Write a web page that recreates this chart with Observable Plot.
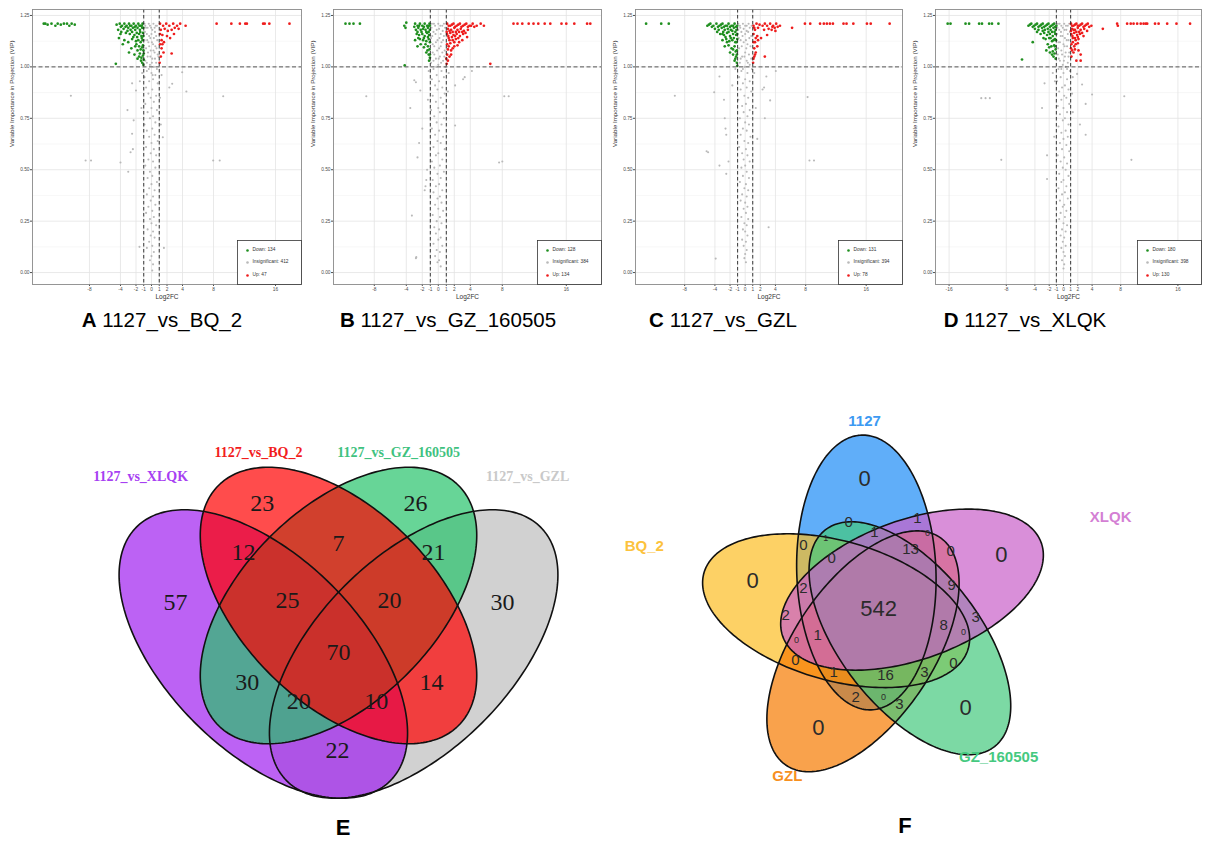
<!DOCTYPE html>
<html><head><meta charset="utf-8">
<script src="https://cdn.jsdelivr.net/npm/d3@7"></script>
<script src="https://cdn.jsdelivr.net/npm/@observablehq/plot@0.6"></script>
<style>
body{margin:0;background:#fff;}
#page{position:relative;width:1207px;height:841px;overflow:hidden;background:#fff;font-family:"Liberation Sans",Arial,sans-serif;}
.cap{position:absolute;font-size:20.5px;color:#000;transform:translate(-50%,-50%);white-space:nowrap;}
.pl{position:absolute;font-size:22px;font-weight:bold;color:#000;transform:translate(-50%,-50%);}
</style></head><body><div id="page"></div>
<script>
// ---------------- volcano data: [log2FC, VIP] ----------------
const VIP_TICKS = [0, 0.25, 0.5, 0.75, 1, 1.25];
const VIP_MINOR = [0.125, 0.375, 0.625, 0.875, 1.125];
const XTICKS_ABC = [-8, -4, -2, -1, 0, 1, 2, 4, 8, 16];
const XTICKS_D = [-16, -8, -4, -2, -1, 0, 1, 2, 4, 8, 16];

const A_down = [[-13.9,1.21],[-13.7,1.21],[-13.4,1.205],[-12.9,1.21],[-12.4,1.2],[-12.1,1.21],[-11.7,1.205],[-11.3,1.21],[-10.9,1.21],[-10.6,1.2],[-10.3,1.21],[-9.9,1.205],
[-4.1,1.21],[-3.8,1.2],[-3.5,1.21],[-3.2,1.2],[-2.9,1.21],[-2.6,1.2],[-2.3,1.21],[-2.0,1.2],[-1.7,1.21],[-1.4,1.2],[-1.15,1.21],
[-4.3,1.18],[-3.6,1.185],[-3.0,1.19],[-2.7,1.18],[-2.4,1.19],[-2.1,1.18],[-1.8,1.19],[-1.5,1.18],[-1.2,1.19],
[-4.0,1.16],[-3.3,1.165],[-2.8,1.16],[-2.2,1.155],[-1.9,1.165],[-1.6,1.16],[-1.3,1.15],[-1.1,1.165],
[-4.2,1.14],[-3.5,1.13],[-2.5,1.135],[-2.0,1.125],[-1.7,1.13],[-1.4,1.12],[-1.15,1.13],
[-3.7,1.11],[-2.6,1.09],[-2.1,1.1],[-1.8,1.08],[-1.4,1.085],[-1.2,1.095],[-1.05,1.08],
[-2.2,1.06],[-1.6,1.05],[-1.3,1.045],[-1.1,1.055],[-1.2,1.02],[-1.05,1.01],[-4.6,1.015],
[-4.5,1.205],[-3.95,1.195],[-3.35,1.195],[-2.75,1.2],[-2.15,1.195],[-1.55,1.2],[-1.25,1.2],[-1.05,1.19],[-3.9,1.17],[-3.1,1.175],[-2.5,1.17],[-1.45,1.17],[-1.05,1.15],
[-2.35,1.145],[-1.85,1.145],[-1.25,1.14],[-3.0,1.12],[-1.95,1.11],[-1.6,1.1],[-1.1,1.105],[-1.5,1.065],[-1.0,1.065],[-1.35,1.03],[-1.0,1.035],[-2.9,1.07],[-1.8,1.04]];
const A_up = [[8.4,1.21],[10.3,1.21],[11.4,1.21],[12.1,1.21],[12.3,1.21],[14.4,1.21],[14.6,1.21],[15.2,1.21],[17.8,1.21],
[1.1,1.21],[1.5,1.2],[1.9,1.21],[2.3,1.2],[2.8,1.21],[3.3,1.2],[3.7,1.21],[4.4,1.2],[1.2,1.18],[1.7,1.185],[2.1,1.175],[2.6,1.18],[3.0,1.19],[3.5,1.185],
[1.1,1.16],[1.4,1.155],[2.0,1.15],[2.9,1.16],[1.3,1.13],[1.6,1.12],[2.4,1.14],[1.1,1.11],[1.4,1.11],[1.3,1.09],[1.55,1.07],[2.6,1.065],[1.2,1.05],[1.05,1.02]];
const A_insig = [[-0.8,1.2],[-0.5,1.19],[-0.2,1.2],[0.1,1.18],[0.4,1.19],[0.7,1.2],[-0.6,1.16],[-0.3,1.15],[0.0,1.16],[0.3,1.14],[0.6,1.15],[-0.9,1.13],[-0.4,1.12],[0.2,1.11],[0.5,1.1],[-0.7,1.09],[-0.1,1.08],[0.4,1.07],[0.8,1.06],[-0.5,1.05],[0.1,1.04],[-0.8,1.03],[0.6,1.02],[-0.2,1.01],[0.3,1.0],
[-0.9,1.21],[-0.35,1.21],[0.25,1.21],[0.55,1.2],[-0.7,1.19],[-0.05,1.19],[0.45,1.17],[-0.85,1.17],[-0.15,1.14],[0.75,1.13],[-0.55,1.13],[0.05,1.12],[-0.3,1.1],[0.65,1.09],[-0.95,1.08],[0.25,1.08],[-0.45,1.07],[0.9,1.05],[-0.15,1.05],[0.45,1.04],[-0.6,1.02],[0.05,1.02],[-0.35,0.99],[0.7,0.99],[0.15,0.96],
[-0.6,0.98],[0.0,0.97],[0.5,0.96],[-0.9,0.95],[0.2,0.94],[-0.3,0.93],[0.8,0.92],[-0.7,0.9],[0.1,0.89],[-0.4,0.87],[0.6,0.86],[-0.1,0.85],[0.3,0.83],[-0.8,0.82],[0.0,0.8],[0.7,0.79],[-0.5,0.78],[0.2,0.76],[-0.2,0.75],[0.5,0.73],[-0.9,0.72],[0.1,0.7],[-0.6,0.69],[0.4,0.67],[-0.3,0.66],[0.8,0.64],[0.0,0.63],[-0.7,0.61],[0.3,0.6],[-0.1,0.58],[0.6,0.57],[-0.4,0.55],[0.2,0.54],[-0.8,0.52],[0.5,0.51],[-0.2,0.49],[0.1,0.47],[-0.5,0.46],[0.7,0.44],[0.0,0.43],[-0.3,0.41],[0.4,0.4],[-0.6,0.38],[0.2,0.37],[-0.1,0.35],[0.5,0.33],[-0.4,0.32],[0.1,0.3],[-0.7,0.29],[0.3,0.27],[-0.2,0.26],[0.0,0.24],[0.6,0.23],[-0.5,0.21],[0.2,0.2],[-0.1,0.18],[0.4,0.17],[-0.3,0.15],[0.1,0.13],[-0.6,0.12],[0.3,0.1],[0.0,0.08],[-0.2,0.06],[0.2,0.04],[0.1,0.01],
[-10.4,0.86],[-8.5,0.545],[-7.8,0.545],[-4.0,0.535],[-3.0,0.49],[-3.1,0.79],[-2.3,0.74],[-2.5,0.675],[-2.7,0.585],[-2.4,0.6],[-2.0,0.885],[-2.5,0.92],[-1.55,0.125],[3.96,0.974],[2.67,0.918],[2.3,0.9],[4.5,0.88],[9.25,0.857],[7.96,0.545],[8.8,0.545],[1.46,0.658],[1.6,0.12],[-1.2,0.97],[1.3,0.96],[-1.5,0.93],[1.1,0.85],[-1.3,0.8],[1.2,0.72]];

const B_down = [[-11.6,1.21],[-11.1,1.21],[-10.6,1.21],[-9.8,1.21],[-4.25,1.2],[-4.0,1.215],[-4.1,1.19],
[-2.9,1.21],[-2.6,1.2],[-2.3,1.21],[-2.0,1.2],[-1.7,1.21],[-1.4,1.2],[-1.1,1.21],
[-2.8,1.18],[-2.5,1.19],[-2.2,1.18],[-1.9,1.185],[-1.6,1.18],[-1.3,1.19],[-1.05,1.18],
[-2.7,1.16],[-2.4,1.155],[-2.0,1.16],[-1.7,1.15],[-1.4,1.165],[-1.15,1.155],
[-2.9,1.13],[-2.3,1.135],[-1.9,1.13],[-1.5,1.125],[-1.2,1.135],
[-2.6,1.1],[-2.2,1.11],[-1.8,1.095],[-1.3,1.1],[-1.1,1.085],
[-1.5,1.07],[-1.2,1.06],[-1.05,1.045],[-1.15,1.03],[-4.2,1.007],
[-3.0,1.195],[-2.4,1.2],[-1.8,1.195],[-1.25,1.2],[-1.05,1.2],[-2.6,1.17],[-2.1,1.17],[-1.5,1.17],[-1.2,1.17],[-2.5,1.14],[-1.8,1.14],[-1.3,1.145],[-1.6,1.11],[-1.05,1.12],[-1.35,1.08],[-1.05,1.06]];
const B_up = [[9.4,1.21],[9.9,1.21],[10.5,1.21],[11.3,1.21],[11.9,1.21],[12.5,1.21],[13.3,1.21],[14.0,1.21],[15.4,1.21],[16.0,1.21],[17.0,1.21],[18.6,1.21],[19.0,1.21],
[1.1,1.21],[1.5,1.2],[1.9,1.21],[2.3,1.2],[2.7,1.21],[3.1,1.2],[3.5,1.21],[3.9,1.2],[4.3,1.21],[4.8,1.2],[5.3,1.21],[5.7,1.2],
[1.2,1.185],[1.6,1.18],[2.0,1.19],[2.4,1.18],[2.8,1.185],[3.2,1.175],[3.7,1.18],[1.1,1.16],[1.5,1.165],[1.9,1.155],[2.3,1.16],[2.7,1.15],[3.1,1.16],[3.6,1.145],
[1.3,1.14],[1.8,1.13],[2.2,1.135],[2.6,1.12],[3.0,1.13],[1.1,1.11],[1.5,1.115],[2.0,1.1],[2.4,1.105],[1.2,1.085],[1.6,1.08],[1.1,1.06],[1.4,1.05],[1.2,1.03],[1.05,1.015],[6.5,1.015],
[1.3,1.2],[1.7,1.205],[2.1,1.195],[2.5,1.205],[2.9,1.195],[3.3,1.205],[3.7,1.195],[4.1,1.2],[4.5,1.195],[1.05,1.17],[1.4,1.175],[1.8,1.17],[2.2,1.17],[2.6,1.17],[3.0,1.17],[3.4,1.165],
[1.25,1.15],[1.7,1.145],[2.1,1.15],[2.5,1.14],[2.0,1.12],[1.4,1.13],[1.3,1.1],[1.8,1.09],[1.0,1.04],[1.6,1.06]];
const B_insig = [[-0.8,1.21],[-0.4,1.2],[0.0,1.21],[0.5,1.2],[0.85,1.19],[-0.6,1.17],[-0.2,1.18],[0.3,1.16],[0.7,1.15],[-0.9,1.14],[-0.1,1.13],[0.4,1.12],[-0.5,1.1],[0.1,1.09],[0.8,1.08],[-0.7,1.07],[0.2,1.05],[-0.3,1.04],[0.6,1.03],[-0.9,1.02],[0.0,1.01],[0.9,1.0],
[-0.55,1.21],[0.25,1.2],[0.7,1.21],[-0.85,1.19],[0.1,1.185],[0.55,1.175],[-0.35,1.16],[-0.75,1.15],[0.15,1.14],[0.6,1.13],[-0.3,1.12],[-0.7,1.11],[0.3,1.1],[-0.15,1.08],[0.5,1.07],[-0.5,1.06],[0.05,1.04],[0.75,1.05],[-0.6,1.03],[0.35,1.02],[-0.25,1.0],
[-0.6,0.99],[0.4,0.98],[-0.2,0.96],[0.7,0.95],[-0.8,0.94],[0.1,0.93],[-0.4,0.91],[0.5,0.9],[-0.1,0.89],[0.8,0.87],[-0.7,0.86],[0.3,0.85],[-0.3,0.83],[0.6,0.82],[0.0,0.8],[-0.9,0.79],[0.2,0.78],[-0.5,0.76],[0.7,0.75],[-0.2,0.73],[0.4,0.72],[-0.8,0.7],[0.1,0.69],[-0.4,0.67],[0.6,0.66],[-0.1,0.64],[0.3,0.63],[-0.6,0.61],[0.8,0.6],[0.0,0.58],[-0.3,0.57],[0.5,0.55],[-0.8,0.54],[0.2,0.52],[-0.5,0.51],[0.7,0.49],[-0.1,0.48],[0.3,0.46],[-0.7,0.45],[0.1,0.43],[-0.3,0.42],[0.5,0.4],[-0.6,0.39],[0.2,0.37],[-0.1,0.36],[0.4,0.34],[-0.4,0.33],[0.0,0.31],[0.6,0.3],[-0.7,0.28],[0.2,0.27],[-0.2,0.25],[0.4,0.24],[-0.5,0.22],[0.1,0.21],[-0.3,0.19],[0.3,0.17],[0.0,0.16],[-0.6,0.14],[0.5,0.13],[-0.2,0.11],[0.2,0.1],[-0.4,0.08],[0.1,0.06],[-0.1,0.05],[0.3,0.03],
[-9.0,0.857],[-3.5,0.8],[-3.0,0.935],[-2.8,0.925],[-2.25,0.885],[-2.0,0.7],[-2.4,0.63],[-2.6,0.56],[-1.4,0.5],[-1.5,0.45],[-1.6,0.42],[-1.7,0.4],[-3.3,0.277],[-2.75,0.075],[-2.8,0.07],[2.1,0.91],[3.1,0.94],[3.3,0.95],[4.2,0.98],[2.1,0.715],[8.25,0.857],[8.8,0.857],[7.6,0.535],[8.0,0.54],[1.3,0.97],[-1.2,0.98],[1.2,0.88],[-1.3,0.84]];

const C_down = [[-13.1,1.21],[-11.1,1.21],[-10.1,1.21],
[-5.0,1.2],[-4.6,1.21],[-4.2,1.2],[-3.8,1.21],[-3.4,1.2],[-3.0,1.21],[-2.6,1.2],[-2.2,1.21],[-1.8,1.2],[-1.4,1.21],[-1.05,1.2],
[-4.0,1.185],[-3.5,1.18],[-3.1,1.19],[-2.7,1.18],[-2.3,1.185],[-1.9,1.18],[-1.5,1.19],[-1.15,1.18],
[-3.3,1.16],[-2.8,1.155],[-2.4,1.165],[-2.0,1.15],[-1.6,1.16],[-1.2,1.155],[-3.0,1.13],[-2.5,1.135],[-2.1,1.125],[-1.7,1.13],[-1.3,1.12],[-1.05,1.135],
[-2.7,1.1],[-2.2,1.105],[-1.8,1.09],[-1.4,1.1],[-1.1,1.08],[-2.0,1.07],[-1.6,1.06],[-1.2,1.05],[-1.4,1.03],[-1.1,1.02],[-1.05,1.005],
[-4.8,1.205],[-4.4,1.195],[-3.6,1.195],[-3.2,1.205],[-2.8,1.195],[-2.4,1.2],[-2.0,1.195],[-1.6,1.2],[-1.2,1.195],[-3.7,1.17],[-2.9,1.17],[-2.2,1.17],[-1.7,1.175],[-1.3,1.17],[-1.05,1.16],
[-2.6,1.145],[-1.9,1.14],[-1.5,1.14],[-1.15,1.12],[-2.4,1.12],[-1.6,1.085],[-1.25,1.075],[-1.1,1.06],[-1.3,1.04],[-3.0,1.16]];
const C_up = [[7.9,1.21],[8.6,1.21],[9.9,1.21],[10.4,1.21],[10.8,1.21],[11.2,1.21],[11.6,1.21],[13.0,1.21],[13.4,1.21],[14.3,1.21],[16.1,1.21],[16.6,1.21],[19.1,1.21],
[1.1,1.2],[1.5,1.21],[2.9,1.2],[3.3,1.21],[3.7,1.2],[4.1,1.21],[4.6,1.2],[6.2,1.19],[1.3,1.18],[3.1,1.185],[3.5,1.18],[3.9,1.19],[1.1,1.16],[1.6,1.15],[2.1,1.14],[2.9,1.155],
[1.3,1.12],[1.7,1.13],[1.2,1.09],[1.6,1.1],[1.4,1.07],[1.2,1.05],[2.6,1.05],[1.05,1.02],
[1.9,1.205],[2.3,1.2],[2.6,1.21],[3.6,1.195],[4.3,1.195],[1.2,1.19],[1.7,1.19],[2.5,1.18],[4.0,1.175],[1.4,1.14],[1.1,1.12],[1.3,1.06],[1.1,1.04]];
const C_insig = [[-0.7,1.2],[-0.3,1.21],[0.2,1.2],[0.6,1.19],[-0.9,1.18],[-0.5,1.17],[0.0,1.16],[0.4,1.17],[0.8,1.15],[-0.6,1.13],[-0.2,1.12],[0.3,1.11],[0.7,1.1],[-0.8,1.09],[0.0,1.07],[0.5,1.06],[-0.4,1.05],[0.2,1.03],[-0.7,1.02],[0.6,1.01],[-0.1,1.0],
[-0.9,1.21],[0.0,1.2],[0.45,1.21],[0.85,1.2],[-0.65,1.19],[-0.2,1.185],[0.2,1.175],[-0.35,1.15],[0.55,1.14],[-0.85,1.14],[0.1,1.13],[-0.45,1.1],[0.15,1.09],[-0.1,1.05],[0.8,1.04],[-0.6,1.04],[0.35,1.02],[-0.3,0.99],
[0.9,0.99],[-0.5,0.98],[0.3,0.97],[-0.8,0.95],[0.0,0.94],[0.6,0.93],[-0.3,0.92],[0.2,0.9],[-0.6,0.89],[0.8,0.88],[-0.1,0.86],[0.4,0.85],[-0.9,0.84],[0.1,0.82],[-0.4,0.81],[0.6,0.79],[-0.2,0.78],[0.3,0.76],[-0.7,0.75],[0.0,0.73],[0.5,0.72],[-0.3,0.7],[0.2,0.69],[-0.6,0.67],[0.7,0.66],[-0.1,0.64],[0.4,0.63],[-0.8,0.61],[0.1,0.6],[-0.4,0.58],[0.3,0.57],[-0.2,0.55],[0.6,0.54],[0.0,0.52],[-0.5,0.51],[0.2,0.49],[-0.3,0.47],[0.5,0.46],[-0.7,0.44],[0.1,0.43],[-0.1,0.41],[0.4,0.4],[-0.4,0.38],[0.2,0.37],[-0.6,0.35],[0.0,0.34],[0.3,0.32],[-0.2,0.31],[0.1,0.29],[-0.5,0.27],[0.4,0.26],[-0.1,0.24],[0.2,0.23],[-0.3,0.21],[0.0,0.2],[0.3,0.18],[-0.4,0.16],[0.1,0.15],[-0.2,0.13],[0.2,0.11],[0.0,0.09],[-0.1,0.07],[0.1,0.05],
[-9.3,0.86],[-5.1,0.59],[-4.9,0.585],[-4.1,0.877],[-3.4,0.953],[-2.8,0.84],[-2.7,0.75],[-2.6,0.7],[-2.5,0.67],[-3.4,0.52],[-2.5,0.48],[-2.2,0.54],[-3.9,0.068],[-1.7,0.91],[2.8,0.953],[2.5,0.9],[2.3,0.89],[4.05,0.98],[3.3,0.837],[2.6,0.75],[1.6,0.65],[3.1,0.22],[8.25,0.853],[8.5,0.545],[9.1,0.545],[1.2,0.97],[-1.3,0.99],[1.4,0.8]];

const D_down = [[-16.2,1.21],[-15.8,1.21],[-13.7,1.21],[-13.2,1.21],[-11.8,1.21],[-11.4,1.21],[-10.4,1.21],[-10.0,1.21],[-9.1,1.21],
[-4.9,1.2],[-4.5,1.21],[-4.1,1.2],[-3.7,1.21],[-3.3,1.2],[-2.9,1.21],[-2.5,1.2],[-2.1,1.21],[-1.7,1.2],[-1.3,1.21],[-1.0,1.2],
[-4.0,1.185],[-3.5,1.18],[-3.0,1.19],[-2.6,1.18],[-2.2,1.185],[-1.8,1.18],[-1.4,1.19],[-1.1,1.18],[-3.2,1.16],[-2.7,1.165],[-2.3,1.155],[-1.9,1.16],[-1.5,1.15],[-1.15,1.16],
[-2.5,1.135],[-2.0,1.14],[-1.6,1.125],[-1.2,1.135],[-4.3,1.12],[-2.2,1.11],[-1.7,1.1],[-1.3,1.105],[-2.4,1.08],[-1.5,1.075],[-1.1,1.085],[-1.4,1.05],[-1.1,1.04],[-5.8,1.036],
[-4.7,1.205],[-4.3,1.195],[-3.9,1.205],[-3.5,1.195],[-3.1,1.205],[-2.7,1.195],[-2.3,1.205],[-1.9,1.195],[-1.5,1.205],[-1.15,1.195],[-3.7,1.17],[-2.9,1.175],[-2.1,1.17],[-1.6,1.17],[-1.25,1.17],
[-2.8,1.14],[-1.8,1.14],[-1.4,1.13],[-1.05,1.13],[-2.0,1.095],[-1.2,1.1],[-1.9,1.07],[-1.25,1.065],[-1.6,1.06]];
const D_up = [[7.5,1.21],[8.9,1.21],[9.4,1.21],[9.8,1.21],[10.3,1.21],[10.8,1.21],[11.2,1.21],[11.5,1.21],[11.7,1.21],[12.8,1.21],[13.3,1.21],[14.5,1.21],[15.8,1.21],[17.7,1.21],
[1.05,1.21],[1.4,1.2],[1.8,1.21],[2.2,1.2],[2.6,1.21],[3.0,1.2],[3.4,1.21],[3.9,1.2],[5.5,1.185],[7.6,1.2],[1.2,1.185],[1.6,1.18],[2.0,1.19],[2.4,1.18],[2.9,1.185],[3.3,1.175],
[1.1,1.16],[1.5,1.165],[1.9,1.155],[2.3,1.16],[2.8,1.15],[1.3,1.14],[1.7,1.13],[2.1,1.135],[1.1,1.11],[1.5,1.1],[2.0,1.115],[1.2,1.08],[1.6,1.085],[2.4,1.06],[2.4,1.03],[1.8,1.03],[1.1,1.05],
[1.2,1.2],[1.6,1.205],[2.0,1.2],[2.4,1.205],[2.8,1.195],[3.2,1.205],[3.6,1.195],[1.05,1.175],[1.4,1.18],[1.8,1.17],[2.2,1.17],[2.6,1.165],[1.25,1.15],[1.6,1.14],[2.0,1.145],[1.3,1.12],[1.7,1.11],[1.05,1.09],[1.4,1.07],[2.1,1.08]];
const D_insig = [[-0.8,1.21],[-0.3,1.2],[0.1,1.21],[0.6,1.2],[-0.6,1.18],[-0.1,1.19],[0.4,1.18],[0.9,1.17],[-0.9,1.16],[-0.4,1.15],[0.2,1.14],[0.7,1.13],[-0.7,1.12],[0.0,1.11],[0.5,1.1],[-0.3,1.08],[0.8,1.07],[-0.8,1.06],[0.2,1.05],[-0.5,1.03],[0.6,1.02],[-0.1,1.01],[0.3,1.0],
[-0.55,1.21],[0.35,1.2],[0.8,1.21],[-0.85,1.19],[0.15,1.18],[-0.35,1.17],[0.6,1.16],[-0.15,1.15],[0.45,1.13],[-0.5,1.12],[0.15,1.1],[-0.75,1.09],[0.3,1.07],[-0.2,1.06],[0.7,1.05],[-0.65,1.04],[0.05,1.03],[0.5,0.99],[-0.3,0.99],
[-0.7,0.99],[0.9,0.98],[0.0,0.97],[-0.4,0.95],[0.5,0.94],[-0.9,0.93],[0.2,0.91],[-0.2,0.9],[0.7,0.89],[-0.6,0.88],[0.1,0.86],[0.4,0.85],[-0.3,0.84],[0.8,0.82],[-0.8,0.81],[0.0,0.8],[0.5,0.78],[-0.5,0.77],[0.2,0.75],[-0.1,0.74],[0.7,0.72],[-0.7,0.71],[0.3,0.69],[-0.3,0.68],[0.6,0.66],[0.0,0.65],[-0.5,0.63],[0.4,0.62],[-0.2,0.6],[0.8,0.59],[-0.8,0.57],[0.1,0.56],[-0.4,0.54],[0.5,0.53],[-0.1,0.51],[0.3,0.5],[-0.6,0.48],[0.7,0.47],[0.0,0.45],[-0.3,0.44],[0.4,0.42],[-0.7,0.41],[0.2,0.39],[-0.2,0.38],[0.6,0.36],[-0.5,0.35],[0.1,0.33],[-0.1,0.32],[0.4,0.3],[-0.4,0.29],[0.2,0.27],[-0.6,0.26],[0.0,0.24],[0.5,0.23],[-0.2,0.21],[0.3,0.2],[-0.4,0.18],[0.1,0.17],[-0.1,0.15],[0.3,0.13],[-0.3,0.12],[0.0,0.1],[0.2,0.08],[-0.2,0.06],[0.1,0.04],[0.0,0.02],
[-11.5,0.848],[-10.9,0.848],[-10.3,0.848],[-8.7,0.548],[-2.65,0.92],[-3.0,0.8],[-2.3,0.57],[-2.3,0.455],[-1.5,0.97],[1.9,0.966],[2.6,0.914],[4.0,0.866],[3.1,0.82],[2.3,0.72],[3.1,0.67],[8.5,0.857],[9.5,0.548],[1.3,0.95],[1.2,0.87],[-1.2,0.93],[1.3,0.78],[-1.3,0.66]];

const LEGEND_COUNTS = {A:[134,412,47], B:[128,384,134], C:[131,394,78], D:[180,398,130]};
const PANEL_TITLES = [["A","1127_vs_BQ_2"],["B","1127_vs_GZ_160505"],["C","1127_vs_GZL"],["D","1127_vs_XLQK"]];

// ---------------- Venn E (4 sets) ----------------
const E_sets = ["1127_vs_XLQK","1127_vs_BQ_2","1127_vs_GZ_160505","1127_vs_GZL"];
const E_fill = ["#a020f0","#ff0000","#26c36b","#bebebe"];
const E_text = ["#a73ff2","#f21d1d","#3fc27f","#c9c9c9"];
const E_ellipses = [
  {cx:0.345, cy:0.47, a:0.37, b:0.2, rot:135},
  {cx:0.5, cy:0.57, a:0.35, b:0.2, rot:135},
  {cx:0.5, cy:0.57, a:0.35, b:0.2, rot:45},
  {cx:0.655, cy:0.47, a:0.37, b:0.2, rot:45}];
const E_order = [3, 0, 2, 1];
const E_setLabelPos = [[0.092,0.836],[0.335,0.885],[0.624,0.885],[0.890,0.836]];
const E_counts = [57,23,26,30,12,7,21,25,20,70,30,14,20,10,22];
const E_countPos = [[0.164,0.576],[0.343,0.780],[0.659,0.780],[0.838,0.576],[0.304,0.679],[0.5,0.698],[0.696,0.679],[0.395,0.580],[0.605,0.580],[0.5,0.473],[0.312,0.411],[0.692,0.411],[0.418,0.372],[0.578,0.372],[0.498,0.271]];

// ---------------- Venn F (5 sets) ----------------
const F_sets = ["1127","XLQK","GZ_160505","GZL","BQ_2"];
const F_fill = ["#1c8bf6","#c95fc9","#44c97e","#f67a00","#fcbd24"];
const F_text = ["#3d9af2","#d47fd4","#45c97f","#f7901e","#fcc23c"];
const F_ellipses = [
  {cx:-0.032, cy:0.115, a:0.395, b:0.2, rot:92},
  {cx:0.0992, cy:0.0657, a:0.395, b:0.2, rot:20},
  {cx:0.0931, cy:-0.0741, a:0.395, b:0.2, rot:128},
  {cx:-0.0417, cy:-0.1115, a:0.395, b:0.2, rot:56},
  {cx:-0.1189, cy:0.0052, a:0.395, b:0.2, rot:164}];
const F_order = [0, 4, 3, 2, 1];
const F_setLabelPos = [[-0.037,0.549],[0.670,0.273],[0.348,-0.417],[-0.259,-0.471],[-0.670,0.190]];
const F_counts = [0,0,1,0,2, 0,0,1,1,0,13,0,9, 0,2,0,1,0,1, 0,542,8,0,3,16,3,0,2,0,3,0];
const F_countPos = [[-0.359,0.092,"L"],[-0.213,0.193,"M"],[-0.149,0.213,"S"],[-0.132,0.155,"M"],[-0.213,0.069,"M"],
[-0.037,0.385,"L"],[-0.083,0.259,"M"],[-0.009,0.230,"M"],[0.115,0.270,"M"],[0.144,0.227,"S"],[0.095,0.181,"M"],[0.210,0.175,"M"],[0.213,0.078,"M"],
[0.356,0.164,"L"],[-0.264,-0.009,"M"],[-0.233,-0.080,"S"],[-0.172,-0.066,"M"],[-0.236,-0.138,"M"],[-0.126,-0.172,"M"],
[-0.170,-0.333,"L"],[0.003,0.011,"C"],[0.190,-0.037,"M"],[0.247,-0.057,"S"],[0.282,-0.014,"M"],[0.023,-0.181,"M"],[0.135,-0.172,"M"],[0.218,-0.147,"M"],[-0.063,-0.244,"M"],[0.017,-0.244,"S"],[0.063,-0.264,"M"],[0.253,-0.273,"L"]];

// ---------------- drawing ----------------
const page = document.getElementById("page");
function put(node, left, top) {
  const d = document.createElement("div");
  d.style.position = "absolute"; d.style.left = left + "px"; d.style.top = top + "px";
  d.appendChild(node); page.appendChild(d);
}
const SANS = "Liberation Sans, Arial, sans-serif";
const SERIF = "Liberation Serif, Times New Roman, serif";
const VIP_DOMAIN = [-0.058, 1.279];
const GREEN = "#1f8f1f", RED = "#ee1c1c", GRAY = "#b9b9b9";

function volcano(p) {
  const H = 306, mt = 9, mb = 22;
  const fw = p.frameR - p.frameL, fh = H - mt - mb;
  const [nd, ni, nu] = p.counts;
  const leg = [["Down: " + nd, GREEN, 34], ["Insignificant: " + ni, GRAY, 22], ["Up: " + nu, RED, 9]];
  const svg = Plot.plot({
    width: p.width, height: H,
    marginLeft: p.frameL - p.origin, marginRight: p.origin + p.width - p.frameR,
    marginTop: mt, marginBottom: mb,
    style: {background: "transparent", overflow: "visible", fontFamily: SANS},
    x: {domain: p.xDomain},
    y: {domain: VIP_DOMAIN},
    marks: [
      Plot.gridY(VIP_MINOR, {stroke: "#efefef", strokeOpacity: 1, strokeWidth: 0.5}),
      Plot.gridY(VIP_TICKS, {stroke: "#e3e3e3", strokeOpacity: 1, strokeWidth: 0.8}),
      Plot.gridX(p.xticks, {stroke: "#e3e3e3", strokeOpacity: 1, strokeWidth: 0.8}),
      Plot.axisY(VIP_TICKS, {tickFormat: d => d.toFixed(2), fontSize: 4.8, tickSize: 2, tickPadding: 1, color: "#4d4d4d", label: null}),
      Plot.axisX(p.xticks, {tickFormat: d => String(d), fontSize: 4.8, tickSize: 2, tickPadding: 1, color: "#4d4d4d", label: null}),
      Plot.text(["Log2FC"], {frameAnchor: "bottom", dy: 14, fontSize: 6.5, fill: "#333"}),
      Plot.text(["Variable Importance in Projection (VIP)"], {frameAnchor: "left", dx: -20, rotate: -90, fontSize: 6.2, fill: "#333"}),
      Plot.dot(p.insig, {x: d => d[0], y: d => d[1], r: 1.05, fill: GRAY}),
      Plot.dot(p.down, {x: d => d[0], y: d => d[1], r: 1.35, fill: GREEN}),
      Plot.dot(p.up, {x: d => d[0], y: d => d[1], r: 1.35, fill: RED}),
      Plot.ruleX([-1, 1], {stroke: "#222", strokeDasharray: "3.5,2.5", strokeWidth: 0.9}),
      Plot.ruleY([1], {stroke: "#555", strokeDasharray: "4,2.5", strokeWidth: 1}),
      Plot.frame({stroke: "#8a8a8a", strokeWidth: 0.9}),
      Plot.frame({insetLeft: fw - 64, insetTop: fh - 44, fill: "white", stroke: "#333", strokeWidth: 0.8}),
      ...leg.map(([t, c, up]) => Plot.dot([0], {frameAnchor: "bottom-right", dx: -54, dy: -up, r: 1.3, fill: c})),
      ...leg.map(([t, c, up]) => Plot.text([t], {frameAnchor: "bottom-right", dx: -49, dy: -up, textAnchor: "start", fontSize: 4.8, fill: "#333"}))
    ]
  });
  put(svg, p.origin, 0);
}

volcano({origin: 0, width: 304, frameL: 32, frameR: 301, xDomain: [-15.35, 19.35], xticks: XTICKS_ABC, down: A_down, insig: A_insig, up: A_up, counts: LEGEND_COUNTS.A});
volcano({origin: 300, width: 304, frameL: 333, frameR: 601, xDomain: [-13.1, 20.4], xticks: XTICKS_ABC, down: B_down, insig: B_insig, up: B_up, counts: LEGEND_COUNTS.B});
volcano({origin: 600, width: 305, frameL: 635, frameR: 902, xDomain: [-14.5, 20.8], xticks: XTICKS_ABC, down: C_down, insig: C_insig, up: C_up, counts: LEGEND_COUNTS.C});
volcano({origin: 900, width: 304, frameL: 935, frameR: 1201, xDomain: [-17.9, 19.3], xticks: XTICKS_D, down: D_down, insig: D_insig, up: D_up, counts: LEGEND_COUNTS.D});

const capX = [162, 448, 723, 1025];
PANEL_TITLES.forEach(([k, t], i) => {
  const d = document.createElement("div");
  d.className = "cap"; d.style.left = capX[i] + "px"; d.style.top = "320px";
  const b = document.createElement("b"); b.textContent = k;
  d.appendChild(b); d.appendChild(document.createTextNode(" " + t));
  page.appendChild(d);
});

function outline(e) {
  const pts = [], th = e.rot * Math.PI / 180, n = 240;
  for (let i = 0; i < n; i++) {
    const t = 2 * Math.PI * i / n;
    pts.push([e.cx + e.a * Math.cos(t) * Math.cos(th) - e.b * Math.sin(t) * Math.sin(th),
              e.cy + e.a * Math.cos(t) * Math.sin(th) + e.b * Math.sin(t) * Math.cos(th)]);
  }
  return pts;
}

// E
(function () {
  const L = 60, T = 430, W = 560, H = 415, S = 485, cx = 338, cy = 605;
  const svg = Plot.plot({
    width: W, height: H, margin: 0,
    style: {background: "transparent", overflow: "visible"},
    x: {domain: [0.5 + (L - cx) / S, 0.5 + (L + W - cx) / S], axis: null},
    y: {domain: [0.57 - (T + H - cy) / S, 0.57 + (cy - T) / S], axis: null},
    marks: [
      ...E_order.map(i => Plot.line(outline(E_ellipses[i]), {x: d => d[0], y: d => d[1], curve: "linear-closed", fill: E_fill[i], fillOpacity: 0.7, stroke: "none"})),
      ...E_order.map(i => Plot.line(outline(E_ellipses[i]), {x: d => d[0], y: d => d[1], curve: "linear-closed", stroke: "#111", strokeWidth: 1.6})),
      Plot.text(E_counts.map((c, i) => ({c, x: E_countPos[i][0], y: E_countPos[i][1]})), {x: "x", y: "y", text: d => String(d.c), fontSize: 24, fontFamily: SERIF, fill: "#1a1a1a"}),
      Plot.text(E_sets.map((s, i) => ({s, i, x: E_setLabelPos[i][0], y: E_setLabelPos[i][1]})), {x: "x", y: "y", text: "s", fill: d => E_text[d.i], fontSize: 14, fontWeight: "bold", fontFamily: SERIF})
    ]
  });
  put(svg, L, T);
})();

// F
(function () {
  const L = 620, T = 400, W = 587, H = 441, S = 348, cx = 877, cy = 612;
  const sizes = {L: 22, C: 22, M: 15, S: 9};
  const labels = F_counts.map((c, i) => ({c, x: F_countPos[i][0], y: F_countPos[i][1], k: F_countPos[i][2]}));
  const svg = Plot.plot({
    width: W, height: H, margin: 0,
    style: {background: "transparent", overflow: "visible"},
    x: {domain: [(L - cx) / S, (L + W - cx) / S], axis: null},
    y: {domain: [(cy - T - H) / S, (cy - T) / S], axis: null},
    marks: [
      ...F_order.map(i => Plot.line(outline(F_ellipses[i]), {x: d => d[0], y: d => d[1], curve: "linear-closed", fill: F_fill[i], fillOpacity: 0.7, stroke: "none"})),
      ...F_order.map(i => Plot.line(outline(F_ellipses[i]), {x: d => d[0], y: d => d[1], curve: "linear-closed", stroke: "#111", strokeWidth: 1.6})),
      ...Object.entries(sizes).map(([k, fs]) => Plot.text(labels.filter(d => d.k === k), {x: "x", y: "y", text: d => String(d.c), fontSize: fs, fontFamily: SANS, fill: "#2b2b2b"})),
      Plot.text(F_sets.map((s, i) => ({s, i, x: F_setLabelPos[i][0], y: F_setLabelPos[i][1]})), {x: "x", y: "y", text: "s", fill: d => F_text[d.i], fontSize: 15, fontWeight: "bold", fontFamily: SANS})
    ]
  });
  put(svg, L, T);
})();

[["E", 343, 828], ["F", 905, 826]].forEach(([t, x, y]) => {
  const d = document.createElement("div");
  d.className = "pl"; d.style.left = x + "px"; d.style.top = y + "px"; d.textContent = t;
  page.appendChild(d);
});
</script></body></html>
